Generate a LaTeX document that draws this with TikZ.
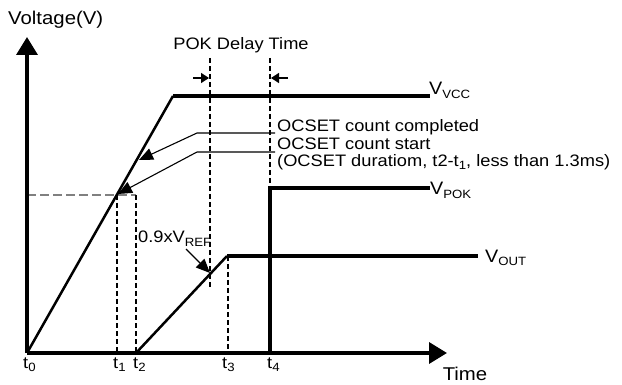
\documentclass[tikz,border=0pt]{standalone}
\usepackage{fontspec}
\setmainfont[FakeStretch=1.1]{Liberation Sans}
\usetikzlibrary{arrows.meta}
\newcommand\lowsub[1]{\raisebox{-0.35ex}{\fontsize{12}{12}\selectfont #1}}
\begin{document}
\begin{tikzpicture}[x=1pt,y=-1pt,
  axis/.style={line width=3.5pt, -{Triangle[length=18pt,width=21pt]}},
  sig/.style={line width=3.5pt},
  ramp/.style={line width=2.5pt},
  guide/.style={line width=1.4pt, dash pattern=on 5pt off 3pt},
  level/.style={line width=1.6pt, gray, dash pattern=on 9pt off 4pt},
  note/.style={line width=1.1pt, -{Triangle[length=14pt,width=12pt]}},
  delay/.style={line width=1.3pt, -{Triangle[length=8pt,width=10pt]}},
  lbl/.style={inner sep=0pt, font=\fontsize{16.6}{17.5}\selectfont},
  vlbl/.style={inner sep=0pt, font=\fontsize{18}{18}\selectfont},
  axlbl/.style={inner sep=0pt, font=\fontsize{18.5}{19}\selectfont}]
\useasboundingbox (0,0) rectangle (622,385);
% key points
\coordinate (O) at (27,353);
\coordinate (ytop) at (27,37);
\coordinate (xend) at (447,353);
\coordinate (vccknee) at (173,96);
\coordinate (vccend) at (430,96);
\coordinate (pokbot) at (270,353);
\coordinate (poktop) at (270,188);
\coordinate (pokend) at (430,188);
\coordinate (outbot) at (136,353);
\coordinate (outknee) at (227,256);
\coordinate (outend) at (478,256);
\coordinate (lvl0) at (27,195);
\coordinate (lvl1) at (117,195);
\coordinate (lvl2) at (136,195);
\coordinate (t1b) at (117,353);
\coordinate (t3t) at (228,256);
\coordinate (t3b) at (228,353);
\coordinate (dAt) at (210,58);
\coordinate (dAb) at (210,288);
\coordinate (dBt) at (270,58);
\coordinate (arL0) at (193,78);
\coordinate (arL1) at (209,78);
\coordinate (arR0) at (288,78);
\coordinate (arR1) at (271,78);
\coordinate (n1a) at (275,133);
\coordinate (n1b) at (197,133);
\coordinate (n1c) at (139,160);
\coordinate (n2a) at (275,152);
\coordinate (n2b) at (197,152);
\coordinate (n2c) at (118,194);
\coordinate (refa) at (186,249);
\coordinate (refb) at (210,273);
% dashed guides
\draw[level] (lvl0) -- (lvl2);
\draw[guide] (lvl1) -- (t1b);
\draw[guide] (lvl2) -- (outbot);
\draw[guide] (t3t) -- (t3b);
\draw[guide] (dAt) -- (dAb);
\draw[guide] (dBt) -- (poktop);
% signals
\draw[ramp] (O) -- (vccknee);
\draw[sig] (vccknee) -- (vccend);
\draw[sig] (pokbot) -- (poktop) -- (pokend);
\draw[ramp] (outbot) -- (outknee);
\draw[sig] (outknee) -- (outend);
% axes
\draw[axis] (O) -- (ytop);
\draw[axis] (O) -- (xend);
% annotations
\draw[note] (n1a) -- (n1b) -- (n1c);
\draw[note] (n2a) -- (n2b) -- (n2c);
\draw[note] (refa) -- (refb);
\draw[delay] (arL0) -- (arL1);
\draw[delay] (arR0) -- (arR1);
% labels
\node[axlbl, anchor=west] (ylab) at (8,20) {Voltage(V)};
\node[axlbl] (xlab) at (465,374) {Time};
\node[lbl] (poklab) at (241,45) {POK Delay Time};
\node[lbl, anchor=west] (c1) at (277,127) {OCSET count completed};
\node[lbl, anchor=west] (c2) at (277,144) {OCSET count start};
\node[lbl, anchor=west] (c3) at (277,162) {(OCSET duratiom, t2-t\lowsub{1}, less than 1.3ms)};
\node[vlbl, anchor=base west] (vvcc) at (429,95) {V\lowsub{VCC}};
\node[vlbl, anchor=base west] (vpok) at (430,195) {V\lowsub{POK}};
\node[vlbl, anchor=base west] (vout) at (485,262) {V\lowsub{OUT}};
\node[lbl, anchor=base west] (vref) at (138,243) {0.9xV\lowsub{REF}};
\node[lbl, anchor=base west] (t0) at (23,368) {t\lowsub{0}};
\node[lbl, anchor=base west] (t1) at (113,368) {t\lowsub{1}};
\node[lbl, anchor=base west] (t2) at (133,368) {t\lowsub{2}};
\node[lbl, anchor=base west] (t3) at (222,368) {t\lowsub{3}};
\node[lbl, anchor=base west] (t4) at (267,368) {t\lowsub{4}};
\end{tikzpicture}
\end{document}
